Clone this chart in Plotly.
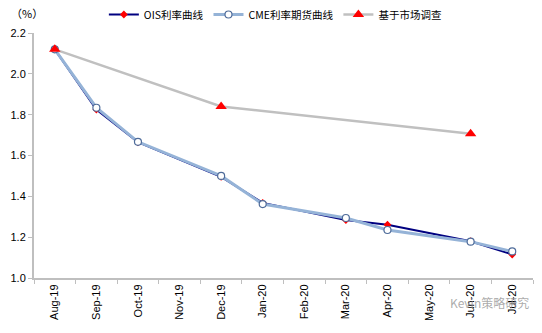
import plotly.graph_objects as go

# Monthly categories
months = ["Aug-19", "Sep-19", "Oct-19", "Nov-19", "Dec-19", "Jan-20",
          "Feb-20", "Mar-20", "Apr-20", "May-20", "Jun-20", "Jul-20"]

# Implied policy-rate paths (%), None where no reading
ois_curve = [2.12, 1.825, 1.665, None, 1.495, 1.368, None, 1.284, 1.261, None, 1.18, 1.115]
cme_curve = [2.12, 1.834, 1.667, None, 1.50, 1.362, None, 1.294, 1.235, None, 1.178, 1.13]
survey = [2.12, None, None, None, 1.84, None, None, None, None, None, 1.707, None]

y_ticks = [1.0, 1.2, 1.4, 1.6, 1.8, 2.0, 2.2]

latin = "Liberation Sans, Arial, sans-serif"
cjk = "Noto Sans CJK SC, sans-serif"

fig = go.Figure()

fig.add_trace(go.Scatter(
    x=months, y=ois_curve, name="OIS利率曲线", mode="lines+markers",
    connectgaps=True,
    line=dict(color="#000080", width=2),
    marker=dict(symbol="diamond", size=6, color="#FF0000"),
))
fig.add_trace(go.Scatter(
    x=months, y=cme_curve, name="CME利率期货曲线", mode="lines+markers",
    connectgaps=True,
    line=dict(color="#95B3D7", width=3),
    marker=dict(symbol="circle", size=7, color="#FFFFFF",
                line=dict(color="#4F6C9A", width=1.2)),
))
fig.add_trace(go.Scatter(
    x=months, y=survey, name="基于市场调查", mode="lines+markers",
    connectgaps=True,
    line=dict(color="#C0C0C0", width=2.5),
    marker=dict(symbol="triangle-up", size=10, color="#FF0000"),
))

fig.update_layout(
    width=542, height=333,
    margin=dict(l=34, r=9, t=33, b=55, autoexpand=False),
    paper_bgcolor="white", plot_bgcolor="white",
    font=dict(family=latin, size=11, color="#000000"),
    showlegend=True,
    legend=dict(
        orientation="h", x=0.14, y=1.0, xref="paper", yref="container",
        xanchor="left", yanchor="top",
        font=dict(family=cjk, size=10.5, color="#000000"),
        itemwidth=30, tracegroupgap=0, bgcolor="rgba(0,0,0,0)",
    ),
    xaxis=dict(
        type="category", categoryorder="array", categoryarray=months,
        range=[-0.5, len(months) - 0.5],
        showline=True, linecolor="#BFBFBF", linewidth=2,
        ticks="outside", tickson="boundaries", ticklen=4,
        tickcolor="#BFBFBF", tickwidth=1,
        tickangle=-90, showgrid=False, zeroline=False,
        tickfont=dict(family=latin, size=11),
    ),
    yaxis=dict(
        range=[1.0, 2.2], tickvals=y_ticks, tickformat=".1f",
        showline=True, linecolor="#BFBFBF", linewidth=2,
        ticks="outside", ticklen=4, tickcolor="#BFBFBF", tickwidth=1,
        showgrid=False, zeroline=False,
        tickfont=dict(family=latin, size=11),
    ),
    annotations=[
        # unit label in the top-left corner
        dict(text="（%）", x=-0.05, y=1.082, xref="paper", yref="paper",
             xanchor="left", yanchor="middle", showarrow=False,
             font=dict(family=cjk, size=11)),
        dict(text="Kevin策略研究", x=0.995, y=-0.1, xref="paper", yref="paper",
             xanchor="right", yanchor="middle", showarrow=False,
             font=dict(family=cjk, size=12, color="rgba(150,150,150,0.8)")),
    ],
)

fig.write_html("out.html")
